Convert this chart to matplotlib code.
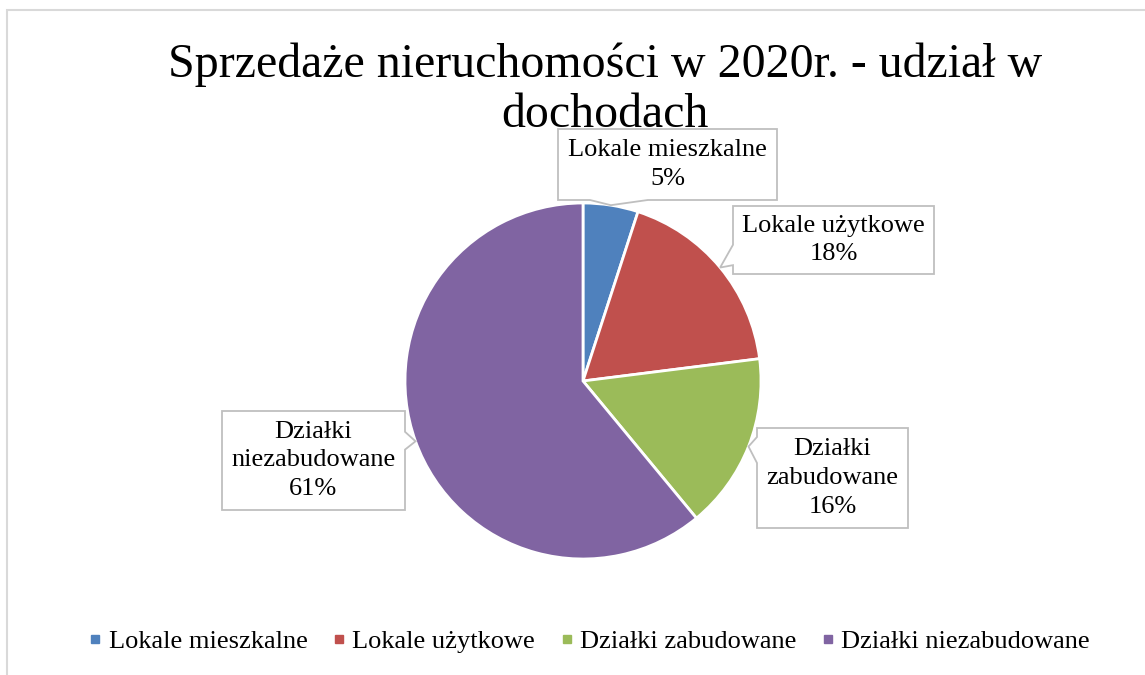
import numpy as np
import matplotlib
matplotlib.use("Agg")
import matplotlib.pyplot as plt
from matplotlib.patches import Polygon, Rectangle
from matplotlib.lines import Line2D

W, H = 1145, 675

# data
categories = ["Lokale mieszkalne", "Lokale użytkowe", "Działki zabudowane", "Działki niezabudowane"]
label_text = ["Lokale mieszkalne", "Lokale użytkowe", "Działki\nzabudowane", "Działki\nniezabudowane"]
shares = [5, 18, 16, 61]
colors = ["#4F81BD", "#C0504D", "#9BBB59", "#8064A2"]
title = "Sprzedaże nieruchomości w 2020r. - udział w\ndochodach"

# layout (pixels, origin top-left)
cx, cy, r = 583, 381, 178
boxes = [(558, 129, 777, 200), (733, 206, 934, 274), (757, 428, 908, 528), (222, 411, 405, 510)]
pointers = [("bottom", 0.146, 0.41), ("left", 0.57, 0.87), ("left", 0.09, 0.35), ("right", 0.21, 0.39)]

plt.rcParams["font.family"] = ["Liberation Serif", "DejaVu Serif"]

fig = plt.figure(figsize=(W / 100, H / 100), dpi=100)


def fx(x, y):
    return (x / W, 1 - y / H)


# chart border (cropped on right and bottom)
fig.patches.append(Rectangle(fx(7, 800), 1400 / W, 790 / H, transform=fig.transFigure,
                             fill=False, edgecolor="#D9D9D9", linewidth=1.5))

ax = fig.add_axes([(cx - r) / W, (H - cy - r) / H, 2 * r / W, 2 * r / H])
wedges, _ = ax.pie(shares, colors=colors, startangle=90, counterclock=False, radius=1,
                   wedgeprops=dict(edgecolor="white", linewidth=2))
ax.set_xlim(-1, 1)
ax.set_ylim(-1, 1)
ax.set_aspect("equal")
ax.axis("off")

# baseline given is for the last line of the title
fig.text(605 / W, 1 - 127 / H, title, ha="center", va="baseline", fontsize=34.5, linespacing=1.18)

# callout labels
total = sum(shares)
for i, (w, txt, s) in enumerate(zip(wedges, label_text, shares)):
    mid = np.deg2rad((w.theta1 + w.theta2) / 2)
    tip = (cx + r * np.cos(mid), cy - r * np.sin(mid))
    x0, y0, x1, y1 = boxes[i]
    side, a, b = pointers[i]
    bw, bh = x1 - x0, y1 - y0
    pts = [(x0, y0), (x1, y0)]
    if side == "right":
        pts += [(x1, y0 + a * bh), tip, (x1, y0 + b * bh)]
    pts += [(x1, y1)]
    if side == "bottom":
        pts += [(x0 + b * bw, y1), tip, (x0 + a * bw, y1)]
    pts += [(x0, y1)]
    if side == "left":
        pts += [(x0, y0 + b * bh), tip, (x0, y0 + a * bh)]
    poly = Polygon([fx(*p) for p in pts], closed=True, transform=fig.transFigure,
                   facecolor="white", edgecolor="#BFBFBF", linewidth=1.3, zorder=5)
    fig.patches.append(poly)
    pct = round(100 * s / total)
    fig.text((x0 + x1) / 2 / W, 1 - (y0 + y1) / 2 / H, f"{txt}\n{pct}%",
             ha="center", va="center", fontsize=19, linespacing=1.4, zorder=6)

handles = [Line2D([], [], marker="s", linestyle="none", markersize=6, color=c) for c in colors]
fig.legend(handles, categories, loc="center", bbox_to_anchor=(590 / W, 1 - 641 / H), ncol=4,
           frameon=False, fontsize=19, handlelength=0.4, handletextpad=0.3, columnspacing=1.0)

fig.savefig("out.png", dpi=100)
